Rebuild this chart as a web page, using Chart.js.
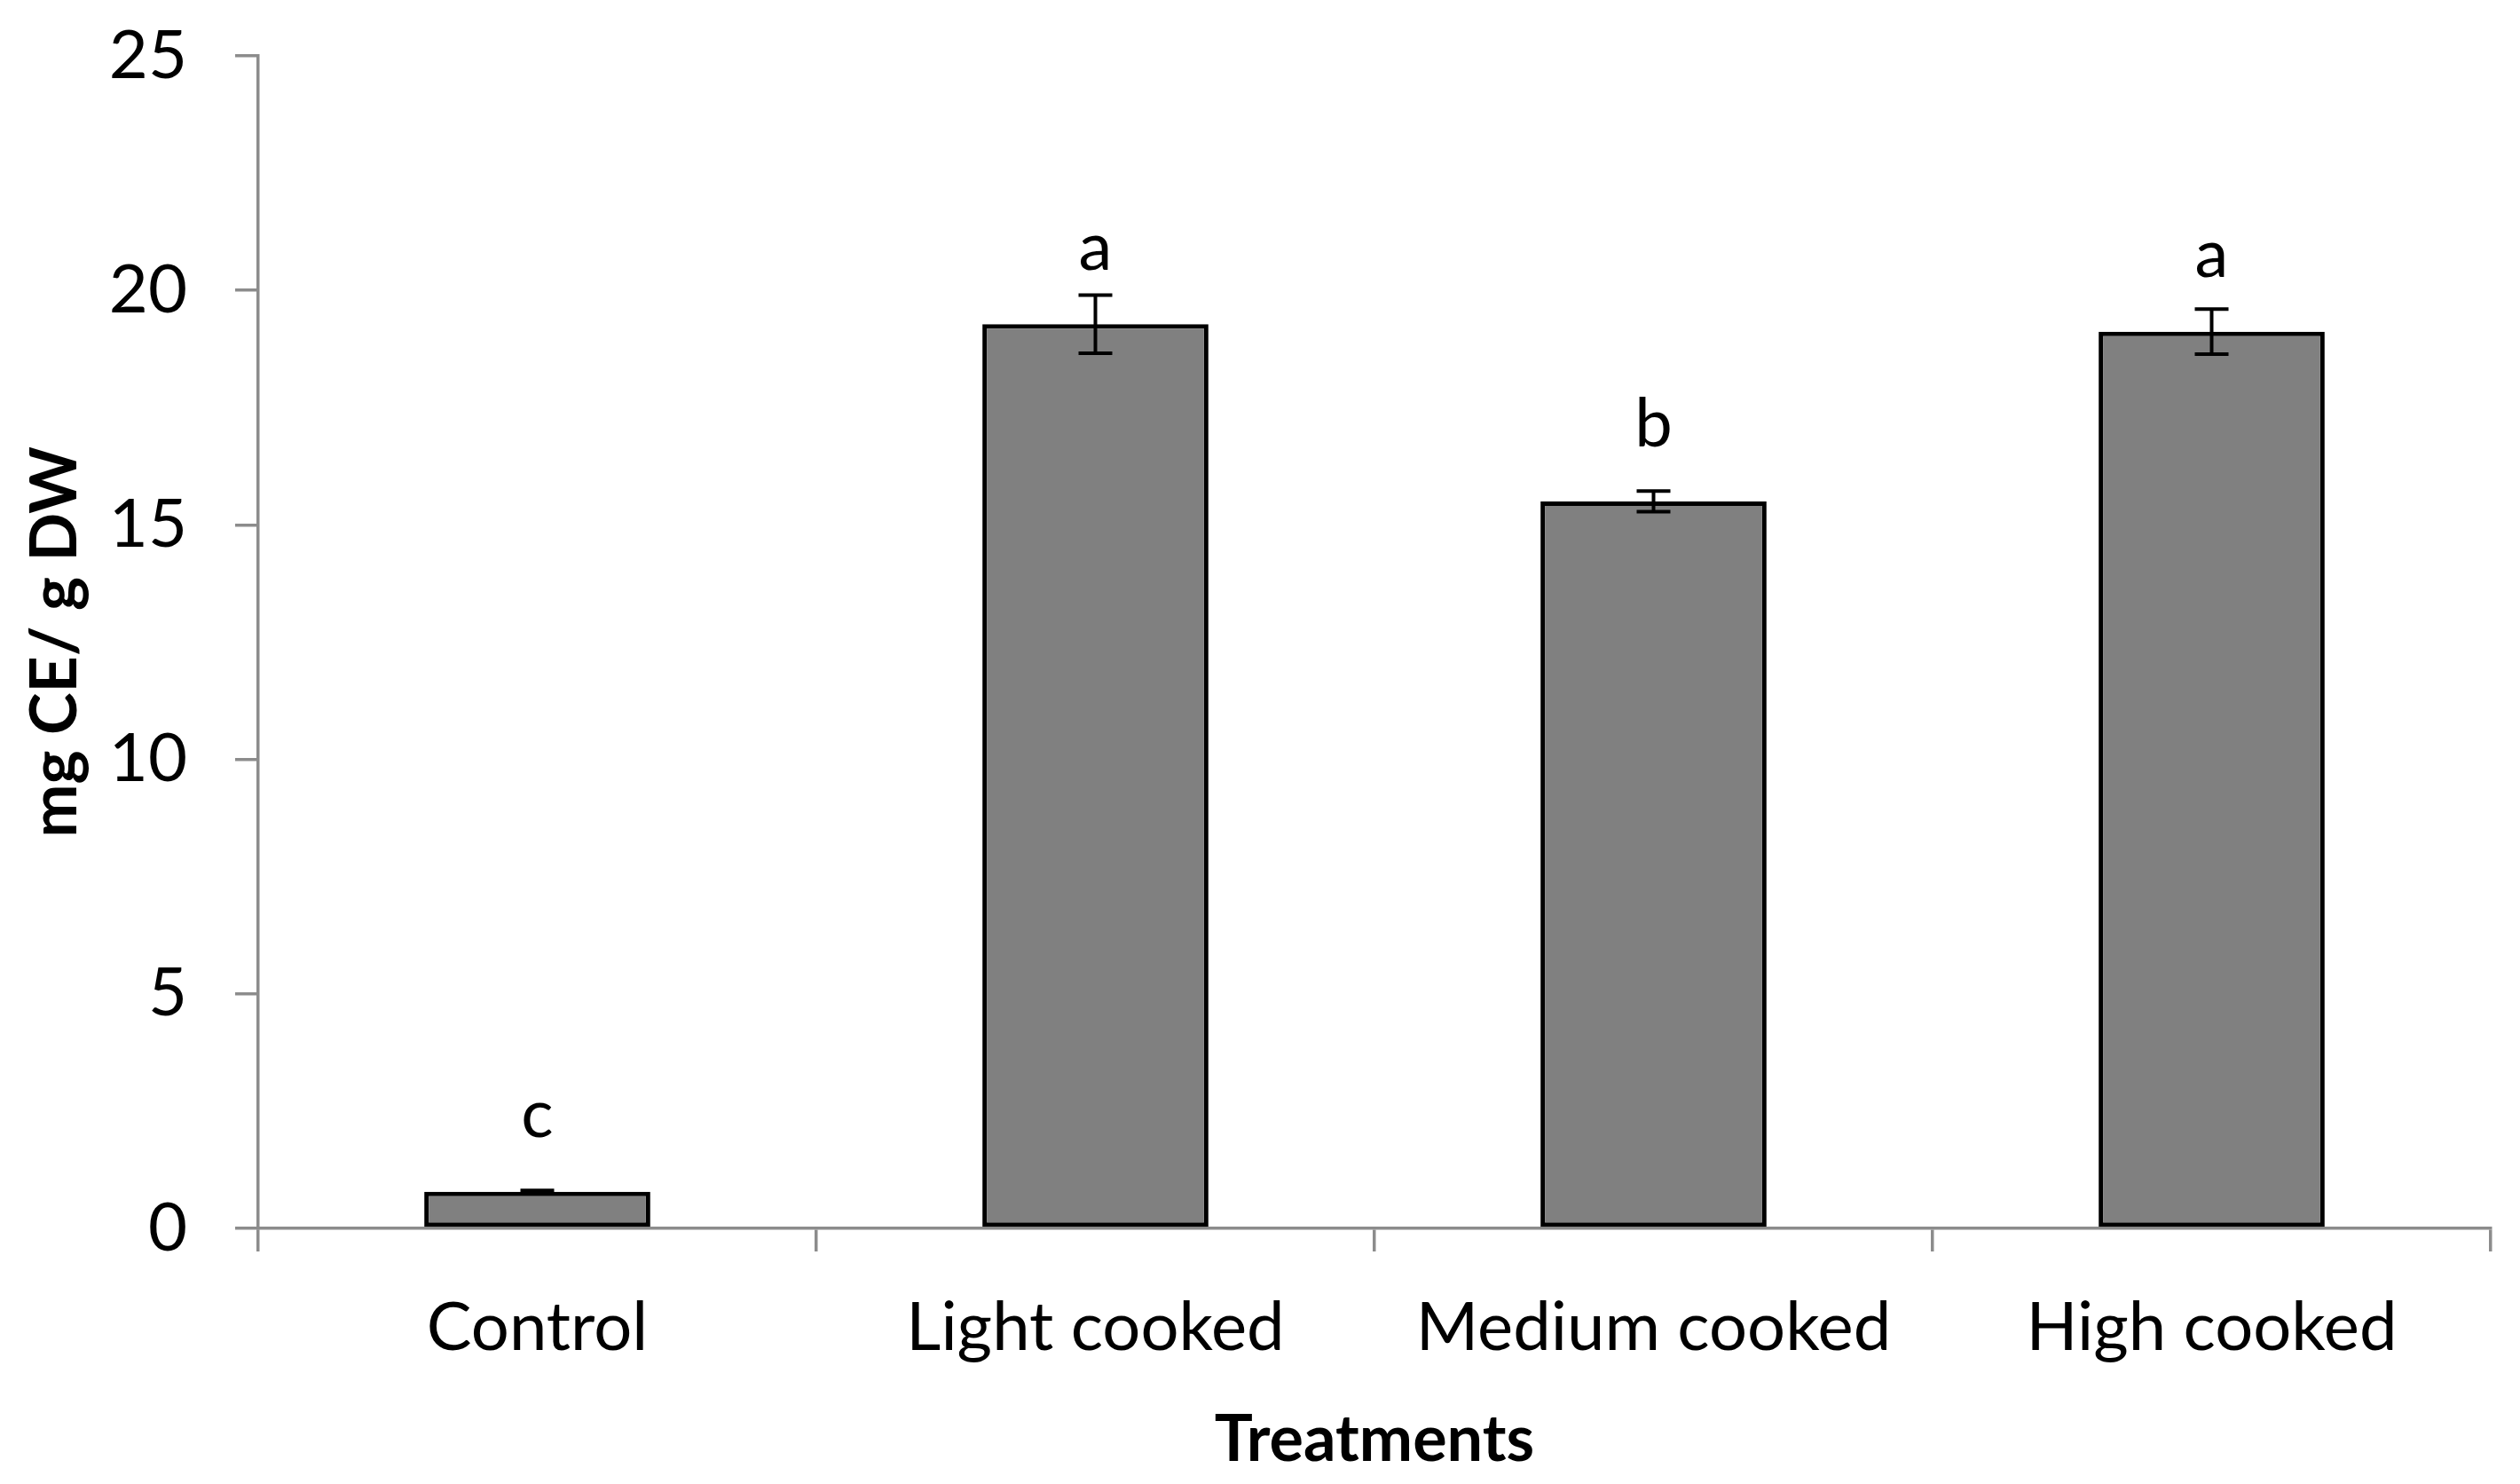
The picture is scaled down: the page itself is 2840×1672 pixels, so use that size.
<!DOCTYPE html>
<html>
<head>
<meta charset="utf-8">
<script src="https://cdn.jsdelivr.net/npm/chart.js"></script>
<style>
  html, body { margin: 0; padding: 0; background: #ffffff; }
  canvas { display: block; }
</style>
</head>
<body>
<canvas id="myChart" width="2840" height="1672"></canvas>
<script>
// datos
const categorias = ["Control", "Light cooked", "Medium cooked", "High cooked"];
const valores = [0.78, 19.28, 15.5, 19.12];
const errores = [0.03, 0.62, 0.22, 0.48];
const letras = ["c", "a", "b", "a"];
const ticksY = [0, 5, 10, 15, 20, 25];

const fuente = "Lato, 'Open Sans', sans-serif";
const gris = "#8c8c8c";

// dibuja barras de error y letras sobre cada barra
const errorBars = {
  id: "errorBars",
  afterDatasetsDraw(chart) {
    const ctx = chart.ctx;
    const meta = chart.getDatasetMeta(0);
    const y = chart.scales.y;
    ctx.save();
    ctx.strokeStyle = "#000000";
    ctx.lineWidth = 4;
    meta.data.forEach((bar, i) => {
      const x = bar.x;
      const top = y.getPixelForValue(valores[i] + errores[i]);
      const bottom = y.getPixelForValue(valores[i] - errores[i]);
      ctx.beginPath();
      ctx.moveTo(x, top);
      ctx.lineTo(x, bottom);
      ctx.moveTo(x - 19, top);
      ctx.lineTo(x + 19, top);
      ctx.moveTo(x - 19, bottom);
      ctx.lineTo(x + 19, bottom);
      ctx.stroke();
      // letra
      ctx.fillStyle = "#000000";
      ctx.font = "76px " + fuente;
      ctx.textAlign = "center";
      ctx.textBaseline = "middle";
      ctx.fillText(letras[i], x, y.getPixelForValue(valores[i]) - 86);
    });
    ctx.restore();
  },
};

const config = {
  type: "bar",
  data: {
    labels: categorias,
    datasets: [
      {
        data: valores,
        backgroundColor: "#808080",
        borderColor: "#000000",
        borderWidth: 5,
        borderSkipped: false,
        categoryPercentage: 1,
        barPercentage: 0.405,
      },
    ],
  },
  options: {
    responsive: false,
    devicePixelRatio: 1,
    animation: false,
    layout: { padding: { left: 0, right: 33, top: 63, bottom: 0 } },
    plugins: {
      legend: { display: false },
      tooltip: { enabled: false },
    },
    scales: {
      x: {
        grid: {
          offset: true,
          drawOnChartArea: false,
          color: gris,
          lineWidth: 3.5,
          tickLength: 26,
        },
        border: { color: gris, width: 3.5 },
        ticks: {
          color: "#000000",
          padding: 41,
          maxRotation: 0,
          font: { family: fuente, size: 76 },
        },
        title: {
          display: true,
          text: "Treatments",
          color: "#000000",
          padding: { top: 0, bottom: 6 },
          font: { family: fuente, size: 72, weight: "bold" },
        },
        afterFit(scale) {
          scale.height = 288;
          scale.paddingLeft = 0;
          scale.paddingRight = 0;
        },
      },
      y: {
        min: 0,
        max: 25,
        afterBuildTicks(scale) {
          scale.ticks = ticksY.map((v) => ({ value: v }));
        },
        grid: {
          drawOnChartArea: false,
          color: gris,
          lineWidth: 3.5,
          tickLength: 26,
        },
        border: { color: gris, width: 3.5 },
        ticks: {
          color: "#000000",
          padding: 54,
          font: { family: fuente, size: 76 },
        },
        title: {
          display: true,
          text: "mg CE/ g DW",
          color: "#000000",
          padding: { top: 20, bottom: 0 },
          font: { family: fuente, size: 72, weight: "bold" },
        },
        afterFit(scale) {
          scale.width = 291;
          scale.paddingTop = 0;
          scale.paddingBottom = 0;
        },
      },
    },
  },
  plugins: [errorBars],
};

new Chart(document.getElementById("myChart"), config);
</script>
</body>
</html>
